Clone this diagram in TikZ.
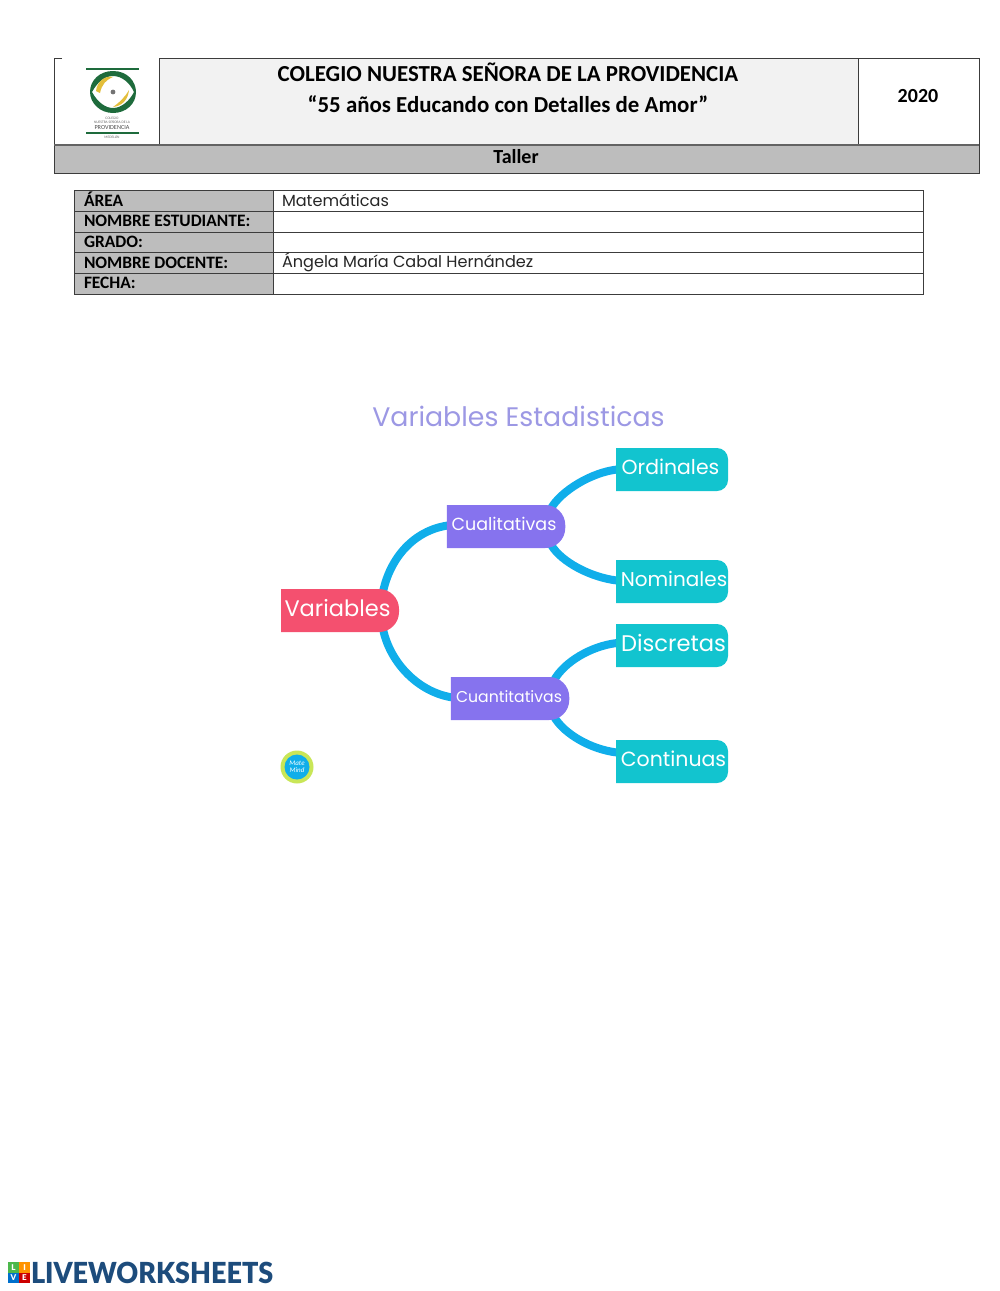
\documentclass[tikz,border=0pt]{standalone}
\usepackage{fontspec}
\setmainfont{Carlito}
\newfontfamily\geo{Poppins}
\newfontfamily\lat{Lato}[BoldFont={Lato Black}]
\usetikzlibrary{calc,backgrounds}
\definecolor{pinkbox}{HTML}{F4506F}
\definecolor{violetbox}{HTML}{8673EE}
\definecolor{tealbox}{HTML}{12C4CF}
\definecolor{linkblue}{HTML}{10AEEA}
\definecolor{titleviolet}{HTML}{9C98E4}
\definecolor{band}{HTML}{BDBDBD}
\definecolor{frame}{HTML}{3C3C3C}
\definecolor{logogreen}{HTML}{1E6B3C}
\definecolor{logogold}{HTML}{E3BE3A}
\definecolor{lwblue}{HTML}{1D4C7C}
\tikzset{
  x=1pt,y=-1pt,
  cell/.style={inner sep=0pt,outer sep=0pt},
  head/.style={cell,font=\fontsize{22.9}{24}\selectfont\bfseries,text=black},
  label/.style={cell,anchor=west,font=\fontsize{17.4}{18}\selectfont\bfseries,text=black},
  val/.style={cell,anchor=west,font=\geo\fontsize{16.1}{18}\selectfont,text=black!85},
  mapbox/.style={cell,minimum height=43pt,text=white},
  rootbox/.style={mapbox,minimum width=118pt,font=\geo\fontsize{22.5}{24}\selectfont},
  midbox/.style={mapbox,minimum width=118.5pt},
  leafbox/.style={mapbox,minimum width=112pt},
  conn/.style={draw=linkblue,line width=8pt},
  tile/.style={cell,minimum size=10.4pt,text=white,font=\lat\bfseries\fontsize{8}{8}\selectfont},
}
\newcommand{\mapshape}[3]{\fill[#3] (#1.north west) [rounded corners=#2] -- (#1.north east) -- (#1.south east) [sharp corners] -- (#1.south west) -- cycle;}
\newcommand{\mt}[2]{\hspace*{#1}\raisebox{0pt}[0.75em][0.25em]{#2}\hspace*{-#1}}
\newcommand{\gf}[1]{\geo\fontsize{#1}{#1}\selectfont}
\begin{document}
\begin{tikzpicture}
\useasboundingbox (0,0) rectangle (1000,1291);
% header
\fill[band] (54,145) rectangle (979,173);
\fill[black!5] (159,58) rectangle (858,145);
\draw[frame,line width=1pt] (62,58) -- (54,58) -- (54,173) -- (979,173) -- (979,58) -- (159,58) -- (159,145);
\draw[frame,line width=1pt] (858,58) -- (858,145);
\draw[frame!80,line width=1.4pt] (54,145) -- (979,145);
\node[head] (school) at (508,72.5) {COLEGIO NUESTRA SEÑORA DE LA PROVIDENCIA};
\node[head] (motto) at (508,104.5) {“55 años Educando con Detalles de Amor”};
\node[cell,font=\fontsize{20}{22}\selectfont\bfseries] (year) at (918,96) {2020};
\node[cell,font=\fontsize{20}{22}\selectfont\bfseries] (taller) at (516,157) {Taller};
% logo
\draw[logogreen,line width=1.6pt] (86,69) -- (139,69);
\fill[logogreen,even odd rule] (113,71) .. controls (128,71) and (136,82) .. (136,92) .. controls (136,104) and (126,113) .. (113,113) .. controls (100,113) and (90,103) .. (90,92) .. controls (90,80) and (100,71) .. (113,71)
  (113,76) .. controls (104,76) and (97,83) .. (92,92) .. controls (98,103) and (106,108) .. (113,108) .. controls (122,108) and (130,100) .. (134,92) .. controls (130,83) and (122,76) .. (113,76);
\fill[logogold] (96,91) .. controls (97,81) and (106,75) .. (113,77) .. controls (106,80) and (102,84) .. (100,93) -- cycle;
\fill[logogold] (113,107) .. controls (122,106) and (128,100) .. (129,90) .. controls (125,97) and (120,102) .. (113,107) -- cycle;
\fill[black!55] (113,92) circle (2.4);
\node[cell,font=\fontsize{3.6}{4}\selectfont,text=black!60] (lg1) at (112,118) {COLEGIO};
\node[cell,font=\fontsize{3.6}{4}\selectfont,text=black!60] (lg2) at (112,122) {NUESTRA SEÑORA DE LA};
\node[cell,font=\fontsize{6.2}{7}\selectfont,text=black!70] (lg3) at (112,127.5) {PROVIDENCIA};
\draw[logogreen,line width=1.2pt] (86,133) -- (139,133);
\node[cell,font=\fontsize{3.6}{4}\selectfont,text=black!60] (lg4) at (112,136.5) {MEDELLÍN};
% info table
\fill[band] (74,190) rectangle (273,294);
\draw[frame,line width=1pt] (74,190) rectangle (923,294);
\draw[frame,line width=1pt] (74,211) -- (923,211) (74,232) -- (923,232) (74,252.5) -- (923,252.5) (74,273) -- (923,273) (273,190) -- (273,294);
\node[label] (l1) at (84,199.5) {ÁREA};
\node[label] (l2) at (84,221) {NOMBRE ESTUDIANTE:};
\node[label] (l3) at (84,242) {GRADO:};
\node[label] (l4) at (84,262.5) {NOMBRE DOCENTE:};
\node[label] (l5) at (84,283) {FECHA:};
\node[val] (v1) at (282,200) {Matemáticas};
\node[val] (v4) at (282,262.5) {Ángela María Cabal Hernández};
% mind map
\node[cell,text=titleviolet,font=\geo\fontsize{26.8}{30}\selectfont] (title) at (518.5,416) {Variables Estadisticas};
\node[rootbox] (var) at (340,610.5) {\mt{-2.5pt}{Variables}};
\node[midbox,font=\gf{17.5}] (cual) at (506,526.5) {\mt{-2pt}{Cualitativas}};
\node[midbox,font=\gf{15.7}] (cuan) at (510,698.5) {\mt{-1pt}{Cuantitativas}};
\node[leafbox,font=\gf{20.4}] (ord) at (672,469.5) {\mt{-1.5pt}{Ordinales}};
\node[leafbox,font=\gf{20}] (nom) at (672,581.5) {\mt{2pt}{Nominales}};
\node[leafbox,font=\gf{22.6}] (dis) at (672,645.5) {\mt{1.5pt}{Discretas}};
\node[leafbox,font=\gf{20.5}] (con) at (672,761.5) {\mt{1.5pt}{Continuas}};
\begin{scope}[on background layer]
\draw[conn] ([xshift=-16pt,yshift=-3pt]var.north east) .. controls +(7,-34) and +(-34,5) .. ([xshift=1pt,yshift=1pt]cual.west);
\draw[conn] ([xshift=-16pt,yshift=3pt]var.south east) .. controls +(7,34) and +(-34,-5) .. ([xshift=2pt,yshift=1pt]cuan.west);
\draw[conn] ([xshift=-14pt,yshift=-3pt]cual.north east) .. controls +(10,-17) and +(-26,3) .. ([xshift=1pt]ord.west);
\draw[conn] ([xshift=-14pt,yshift=3pt]cual.south east) .. controls +(10,17) and +(-26,-3) .. ([xshift=1pt,yshift=1pt]nom.west);
\draw[conn] ([xshift=-15pt,yshift=-3pt]cuan.north east) .. controls +(10,-18) and +(-26,3) .. ([xshift=1pt,yshift=2.5pt]dis.west);
\draw[conn] ([xshift=-15pt,yshift=3pt]cuan.south east) .. controls +(10,17) and +(-26,-3) .. ([xshift=1pt,yshift=9pt]con.west);
\mapshape{var}{20pt}{pinkbox}
\mapshape{cual}{20pt}{violetbox}
\mapshape{cuan}{20pt}{violetbox}
\mapshape{ord}{11pt}{tealbox}
\mapshape{nom}{11pt}{tealbox}
\mapshape{dis}{11pt}{tealbox}
\mapshape{con}{11pt}{tealbox}
\end{scope}
% badge
\fill[yellow!70!green!70] (297,767) circle (16.5);
\fill[linkblue] (297,767) circle (12.5);
\node[cell,align=center,text=white,font=\fontsize{7}{7.5}\selectfont\itshape] (badge) at (297,767) {Mate\\Mind};
% liveworksheets
\node[tile,fill=green!60!black!70] (tl) at (13.5,1267.5) {L};
\node[tile,fill=orange!85!yellow] (ti) at (24.5,1267.5) {I};
\node[tile,fill=blue!45!cyan!80!black] (tv) at (13.5,1278) {V};
\node[tile,fill=red!80!black] (te) at (24.5,1278) {E};
\node[cell,anchor=west,text=lwblue,xscale=0.93,font=\lat\bfseries\fontsize{29}{32}\selectfont] (lw) at (31,1272.5) {LIVEWORKSHEETS};
\end{tikzpicture}
\end{document}
